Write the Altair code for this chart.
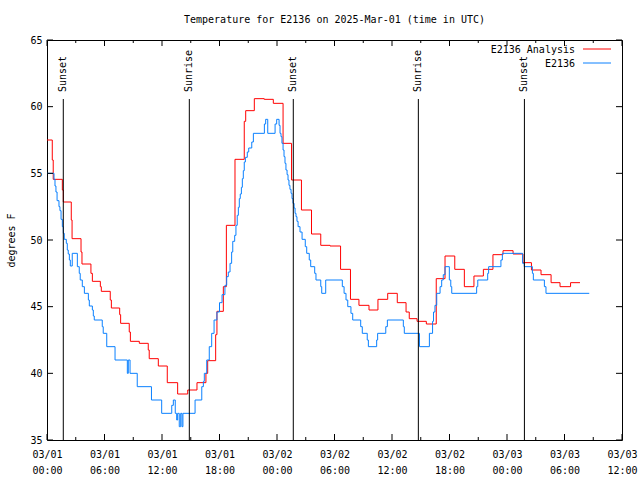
import altair as alt
import pandas as pd

FONT = "DejaVu Sans Mono"
BASE = pd.Timestamp("2025-03-01T00:00:00Z")

# E2136 Analysis (hourly steps): minutes after 2025-03-01 00:00 UTC, temperature F
analysis_minutes = [0, 33, 39, 96, 102, 152, 157, 213, 219, 275, 284, 334, 340, 396, 403, 455, 461,
                    515, 522, 578, 634, 640, 697, 753, 818, 881, 939, 995, 1006, 1056, 1064, 1104,
                    1123, 1177, 1235, 1244, 1298, 1360, 1417, 1478, 1531, 1593, 1656, 1714, 1772,
                    1838, 1900, 1953, 2016, 2072, 2133, 2193, 2248, 2268, 2317, 2375, 2437, 2492,
                    2553, 2613, 2673, 2732, 2792, 2855, 2918, 2980, 3033, 3093, 3156, 3212, 3278, 3337]
analysis_temps = [57.5, 56.0, 54.55, 53.75, 52.85, 51.5, 50.1, 49.1, 48.2, 47.5, 46.9, 46.5, 46.15,
                  45.5, 44.9, 44.4, 43.75, 43.1, 42.4, 42.25, 41.75, 41.1, 40.55, 39.3, 38.45, 38.75,
                  39.3, 40.0, 40.95, 42.9, 44.65, 46.5, 51.1, 56.05, 58.9, 59.7, 60.6, 60.55, 60.25,
                  57.25, 54.5, 52.25, 50.45, 49.6, 49.55, 47.8, 45.55, 45.1, 44.75, 45.55, 46.0, 45.3,
                  44.6, 44.1, 43.9, 43.7, 47.1, 48.8, 47.8, 46.5, 47.3, 47.8, 48.9, 49.2, 48.95, 48.3,
                  47.75, 47.4, 46.8, 46.5, 46.8, 46.8]

# E2136 observations
obs_minutes = [0, 44, 50, 56, 63, 75, 81, 88, 96, 102,
               108, 121, 127, 133, 140, 146, 158, 190, 202, 208,
               221, 234, 259, 265, 284, 290, 296, 346, 352, 374,
               426, 503, 509, 520, 565, 654, 718, 781, 791, 803,
               812, 818, 828, 837, 845, 851, 927, 969, 979, 985,
               1000, 1016, 1031, 1046, 1064, 1080, 1096, 1114, 1125, 1135,
               1146, 1156, 1163, 1175, 1183, 1191, 1198, 1204, 1210, 1217,
               1223, 1229, 1235, 1242, 1254, 1263, 1282, 1292, 1361, 1369,
               1382, 1428, 1438, 1453, 1459, 1465, 1471, 1478, 1484, 1490,
               1496, 1503, 1509, 1515, 1521, 1528, 1534, 1540, 1547, 1553,
               1559, 1565, 1572, 1584, 1597, 1617, 1626, 1642, 1651, 1676,
               1684, 1714, 1720, 1745, 1849, 1860, 1872, 1883, 1903, 1914,
               1964, 1974, 2005, 2012, 2064, 2070, 2121, 2131, 2231, 2237,
               2332, 2394, 2414, 2420, 2429, 2440, 2461, 2471, 2481, 2492,
               2519, 2528, 2534, 2690, 2697, 2759, 2765, 2842, 2851, 2978,
               2988, 3039, 3045, 3114, 3124, 3395]
obs_temps = [55.0, 54.55, 54.05, 53.6, 52.95, 52.5, 52.2, 51.55, 51.0, 50.5,
             50.05, 49.75, 49.25, 48.95, 48.5, 48.05, 49.0, 48.0, 47.5, 47.0,
             46.5, 46.0, 45.5, 45.05, 44.75, 44.3, 44.0, 43.5, 43.0, 42.0,
             41.0, 40.0, 41.0, 40.0, 39.0, 38.0, 37.0, 37.6, 38.0, 37.0,
             36.5, 37.0, 36.0, 37.0, 36.0, 37.0, 38.0, 39.0, 39.4, 40.0,
             41.0, 42.0, 43.0, 44.0, 44.6, 45.3, 45.9, 46.6, 47.25, 47.6,
             48.25, 49.1, 49.9, 50.35, 51.1, 51.85, 52.45, 53.1, 53.45, 53.95,
             54.6, 55.2, 55.85, 56.2, 56.6, 56.9, 57.35, 58.0, 58.7, 59.05,
             58.0, 58.7, 59.05, 58.6, 58.0, 57.75, 57.25, 56.75, 56.25, 55.75,
             55.25, 54.9, 54.5, 54.1, 53.8, 53.5, 53.1, 52.75, 52.4, 52.0,
             51.75, 51.4, 51.0, 50.6, 50.05, 49.5, 49.0, 48.5, 48.0, 47.5,
             47.0, 46.5, 46.0, 47.0, 46.5, 46.0, 45.5, 45.0, 44.5, 44.0,
             43.5, 43.0, 42.5, 42.0, 42.5, 43.0, 43.5, 44.0, 43.5, 43.0,
             42.0, 43.0, 43.9, 44.6, 45.1, 46.0, 46.5, 47.0, 47.4, 48.0,
             47.0, 46.5, 46.0, 46.5, 47.0, 47.5, 48.0, 48.5, 49.0, 48.25,
             48.0, 47.5, 47.0, 46.5, 46.0, 46.0]

event_labels = ["Sunset", "Sunrise", "Sunset", "Sunrise", "Sunset"]
event_times = ["2025-03-01T01:42:00Z", "2025-03-01T14:51:00Z", "2025-03-02T01:42:00Z",
               "2025-03-02T14:45:00Z", "2025-03-03T01:49:00Z"]

series_names = ["E2136 Analysis", "E2136"]
series_colors = ["#ff0000", "#0a80ff"]

y_ticks = [35, 40, 45, 50, 55, 60, 65]
x_tick_hours = list(range(0, 61, 6))
x_minor_hours = list(range(3, 61, 6))

TITLE = "Temperature for E2136 on 2025-Mar-01 (time in UTC)"


def iso(minutes):
    return (BASE + pd.Timedelta(minutes=minutes)).strftime("%Y-%m-%dT%H:%M:%SZ")


def dt(hour):
    return alt.DateTime(year=2025, month=3, date=1 + hour // 24, hours=hour % 24, utc=True)


df_an = pd.DataFrame({"time": [iso(m) for m in analysis_minutes], "temp": analysis_temps})
df_ob = pd.DataFrame({"time": [iso(m) for m in obs_minutes], "temp": obs_temps})
df_ev = pd.DataFrame({"time": event_times, "label": event_labels})
df_major = pd.DataFrame({"time": [iso(h * 60) for h in x_tick_hours]})
df_minor = pd.DataFrame({"time": [iso(h * 60) for h in x_minor_hours]})
df_y = pd.DataFrame({"temp": y_ticks})
dummy = pd.DataFrame({"a": [0]})

W, H = 575, 400

x_scale = alt.Scale(type="utc", domain=[dt(0), dt(60)])
y_scale = alt.Scale(domain=[35, 65], nice=False, zero=False)

x_axis = alt.Axis(values=[dt(h) for h in x_tick_hours],
                  labelExpr="[utcFormat(datum.value, '%m/%d'), utcFormat(datum.value, '%H:%M')]",
                  ticks=False, domain=False, grid=False, labelFont=FONT, labelFontSize=10,
                  labelColor="black", labelPadding=9, labelLineHeight=16, title=None,
                  labelOverlap=False, labelFlush=False)
y_axis = alt.Axis(values=y_ticks, ticks=False, domain=False, grid=False, labelFont=FONT,
                  labelFontSize=10, labelColor="black", labelPadding=5, title="degrees F",
                  titleFont=FONT, titleFontSize=10, titleFontWeight="normal", titleColor="black",
                  titlePadding=13)

X = alt.X("time:T", scale=x_scale, axis=x_axis)
Y = alt.Y("temp:Q", scale=y_scale, axis=y_axis)

analysis = alt.Chart(df_an).mark_line(interpolate="step-after", strokeWidth=1,
                                      color=series_colors[0]).encode(x=X, y=Y)
obs = alt.Chart(df_ob).mark_line(interpolate="step-after", strokeWidth=1,
                                 color=series_colors[1]).encode(x=X, y=Y)

ev_rules = alt.Chart(df_ev).mark_rule(color="black", strokeWidth=1).encode(
    x=alt.X("time:T", scale=x_scale), y=alt.value(H), y2=alt.value(59))
ev_text = alt.Chart(df_ev).mark_text(angle=270, align="left", baseline="middle", font=FONT,
                                     fontSize=10, color="black").encode(
    x=alt.X("time:T", scale=x_scale), y=alt.value(52), text="label:N")

tick_layers = []
for dfx, ln in ((df_major, 6), (df_minor, 3)):
    tick_layers.append(alt.Chart(dfx).mark_rule(color="black", strokeWidth=1).encode(
        x=alt.X("time:T", scale=x_scale), y=alt.value(H), y2=alt.value(H - ln)))
    tick_layers.append(alt.Chart(dfx).mark_rule(color="black", strokeWidth=1).encode(
        x=alt.X("time:T", scale=x_scale), y=alt.value(0), y2=alt.value(ln)))
tick_layers.append(alt.Chart(df_y).mark_rule(color="black", strokeWidth=1).encode(
    y=alt.Y("temp:Q", scale=y_scale), x=alt.value(0), x2=alt.value(6)))
tick_layers.append(alt.Chart(df_y).mark_rule(color="black", strokeWidth=1).encode(
    y=alt.Y("temp:Q", scale=y_scale), x=alt.value(W), x2=alt.value(W - 6)))

legend_layers = []
for i, (name, col) in enumerate(zip(series_names, series_colors)):
    yy = 10 + 14 * i
    legend_layers.append(alt.Chart(dummy).mark_text(align="right", baseline="middle", font=FONT,
                                                    fontSize=10, color="black", text=name).encode(
        x=alt.value(528), y=alt.value(yy)))
    legend_layers.append(alt.Chart(dummy).mark_rule(color=col, strokeWidth=1).encode(
        x=alt.value(536), x2=alt.value(564), y=alt.value(yy - 1)))

chart = alt.layer(
    analysis, obs, ev_rules, ev_text, *tick_layers, *legend_layers
).properties(
    width=W, height=H,
    title=alt.TitleParams(TITLE, font=FONT, fontSize=10, fontWeight="normal", color="black",
                          anchor="middle", offset=10),
    autosize=alt.AutoSizeParams(type="none"),
    padding={"left": 47, "top": 40, "right": 18, "bottom": 40},
    background="white",
).configure_view(stroke="black", strokeWidth=1)

chart.save("out.html", embed_options={"renderer": "svg", "actions": False})
